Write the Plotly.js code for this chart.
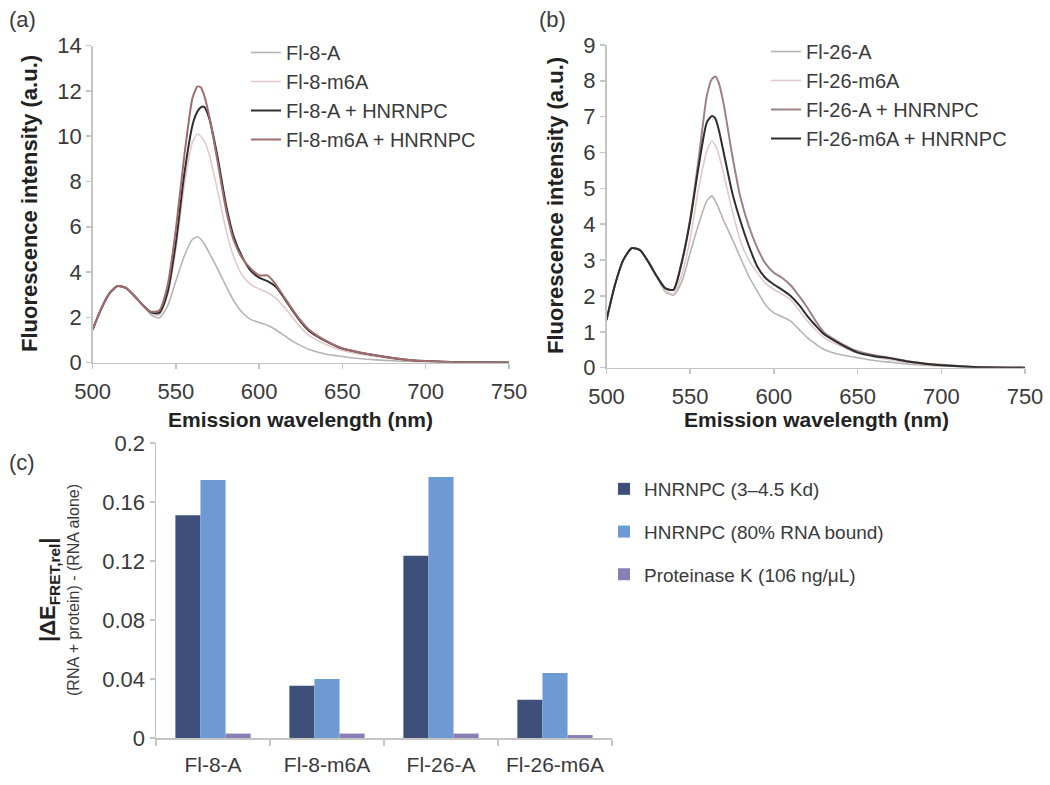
<!DOCTYPE html>
<html>
<head>
<meta charset="utf-8">
<script src="https://cdn.plot.ly/plotly-3.0.1.min.js"></script>
<style>html,body{margin:0;padding:0;background:#fff;}#chart{width:1050px;height:785px;}</style>
</head>
<body>
<div id="chart"></div>
<script>
// ---------- data ----------
const wavelength = [500,505,510,515,520,525,530,535,540,545,550,555,560,563,565,567,570,575,580,585,590,595,600,605,610,615,620,625,630,640,650,660,670,680,690,700,720,750];

// panel (a)
const fl8A          = [1.45,2.35,3.05,3.38,3.30,2.95,2.55,2.12,1.97,2.50,3.60,4.70,5.45,5.56,5.45,5.25,4.85,4.15,3.40,2.70,2.20,1.90,1.77,1.65,1.45,1.20,0.95,0.75,0.58,0.38,0.27,0.18,0.12,0.08,0.05,0.03,0.01,0.00];
const fl8m6A        = [1.45,2.35,3.05,3.38,3.30,2.95,2.55,2.18,2.10,3.00,5.00,7.80,9.75,10.10,10.00,9.80,9.20,7.60,5.90,4.60,3.85,3.45,3.25,3.10,2.85,2.45,2.00,1.55,1.20,0.80,0.53,0.38,0.27,0.17,0.10,0.06,0.02,0.00];
const fl8A_HNRNPC   = [1.45,2.35,3.05,3.38,3.30,2.95,2.55,2.22,2.20,3.10,5.30,8.30,10.50,11.10,11.28,11.30,10.80,9.10,7.00,5.50,4.65,4.05,3.75,3.60,3.35,2.85,2.30,1.80,1.40,0.95,0.62,0.45,0.32,0.20,0.12,0.07,0.02,0.00];
const fl8m6A_HNRNPC = [1.45,2.35,3.05,3.38,3.30,2.95,2.55,2.25,2.30,3.40,5.90,9.10,11.70,12.20,12.15,11.80,10.90,8.90,6.80,5.35,4.60,4.15,3.85,3.85,3.45,2.90,2.35,1.85,1.45,0.97,0.63,0.46,0.32,0.20,0.12,0.07,0.02,0.00];

// panel (b)
const fl26A          = [1.33,2.30,3.00,3.33,3.28,2.95,2.55,2.12,2.02,2.40,3.20,4.00,4.65,4.79,4.65,4.45,4.10,3.60,3.07,2.55,2.14,1.75,1.53,1.42,1.30,1.07,0.84,0.66,0.51,0.36,0.28,0.20,0.15,0.10,0.07,0.05,0.02,0.00];
const fl26m6A        = [1.33,2.30,3.00,3.33,3.28,2.95,2.55,2.15,2.05,2.60,3.60,5.00,6.05,6.32,6.20,5.95,5.40,4.40,3.53,3.00,2.65,2.35,2.18,2.05,1.90,1.60,1.30,1.05,0.84,0.60,0.42,0.30,0.22,0.14,0.09,0.06,0.02,0.00];
const fl26A_HNRNPC   = [1.33,2.30,3.00,3.33,3.28,2.95,2.55,2.22,2.17,2.95,4.15,5.80,7.60,8.05,8.12,7.95,7.35,5.95,4.75,3.95,3.35,2.90,2.65,2.50,2.30,2.00,1.67,1.30,0.98,0.68,0.46,0.35,0.27,0.18,0.12,0.08,0.02,0.00];
const fl26m6A_HNRNPC = [1.33,2.30,3.00,3.33,3.28,2.95,2.55,2.22,2.17,2.95,4.10,5.60,6.85,7.02,6.95,6.65,6.00,4.90,4.09,3.40,2.83,2.50,2.32,2.17,2.00,1.75,1.44,1.17,0.93,0.65,0.42,0.32,0.26,0.17,0.11,0.07,0.02,0.00];

// panel (c)
const categories   = ['Fl-8-A','Fl-8-m6A','Fl-26-A','Fl-26-m6A'];
const hnrnpcKd     = [0.151,0.0355,0.1235,0.026];
const hnrnpc80     = [0.175,0.040,0.177,0.044];
const proteinaseK  = [0.003,0.003,0.003,0.002];
const yTicksC      = [0,0.04,0.08,0.12,0.16,0.2];
const yTickTextC   = ['0','0.04','0.08','0.12','0.16','0.2'];

// ---------- styling ----------
const FONT = 'Liberation Sans, Arial, sans-serif';
const TXT = '#3a3a3a';
const TITLE = '#222222';
const AX = '#c4c4c4';
const W = 1050, H = 785;
const px = v => v / W;
const py = v => 1 - v / H;

function lineTrace(y, name, color, width, xa, ya, lg) {
  return {x: wavelength, y: y, name: name, type: 'scatter', mode: 'lines',
          line: {color: color, width: width, shape: 'spline', smoothing: 0.6},
          xaxis: xa, yaxis: ya, legend: lg, hoverinfo: 'skip'};
}

const traces = [
  lineTrace(fl8A, 'Fl-8-A', '#b4b4b4', 1.6, 'x', 'y', 'legend'),
  lineTrace(fl8m6A, 'Fl-8-m6A', '#e3c9cc', 1.6, 'x', 'y', 'legend'),
  lineTrace(fl8A_HNRNPC, 'Fl-8-A + HNRNPC', '#2e2e2e', 2, 'x', 'y', 'legend'),
  lineTrace(fl8m6A_HNRNPC, 'Fl-8-m6A + HNRNPC', '#a06c6c', 2, 'x', 'y', 'legend'),
  lineTrace(fl26A, 'Fl-26-A', '#b4b4b4', 1.6, 'x2', 'y2', 'legend2'),
  lineTrace(fl26m6A, 'Fl-26-m6A', '#e0c8cb', 1.6, 'x2', 'y2', 'legend2'),
  lineTrace(fl26A_HNRNPC, 'Fl-26-A + HNRNPC', '#9c8282', 2, 'x2', 'y2', 'legend2'),
  lineTrace(fl26m6A_HNRNPC, 'Fl-26-m6A + HNRNPC', '#2e2e2e', 2, 'x2', 'y2', 'legend2'),
  {x: categories, y: hnrnpcKd, name: 'HNRNPC (3–4.5 Kd)', type: 'bar', marker: {color: '#3e5079'},
   xaxis: 'x3', yaxis: 'y3', legend: 'legend3', legendgroup: 'g1', hoverinfo: 'skip'},
  {x: categories, y: hnrnpc80, name: 'HNRNPC (80% RNA bound)', type: 'bar', marker: {color: '#6d9ad2'},
   xaxis: 'x3', yaxis: 'y3', legend: 'legend3', legendgroup: 'g2', hoverinfo: 'skip'},
  {x: categories, y: proteinaseK, name: 'Proteinase K (106 ng/μL)', type: 'bar', marker: {color: '#8a7db3'},
   xaxis: 'x3', yaxis: 'y3', legend: 'legend3', legendgroup: 'g3', hoverinfo: 'skip'}
];

const axisBase = {showline: true, linecolor: AX, linewidth: 1.5, ticks: 'outside', tickcolor: AX,
  ticklen: 5, tickwidth: 1.5, showgrid: false, zeroline: false, fixedrange: true,
  tickfont: {family: FONT, size: 22, color: TXT}};

const legendBase = {bgcolor: 'rgba(0,0,0,0)', borderwidth: 0, xanchor: 'left', yanchor: 'top',
  font: {family: FONT, size: 20, color: TXT}, itemclick: false, itemdoubleclick: false};

function ann(text, x, y, size, color, angle) {
  return {text: text, x: px(x), y: py(y), xref: 'paper', yref: 'paper', showarrow: false,
          xanchor: 'center', yanchor: 'middle', textangle: angle || 0,
          font: {family: FONT, size: size, color: color}};
}

const layout = {
  width: W, height: H,
  margin: {l: 0, r: 0, t: 0, b: 0},
  paper_bgcolor: '#fff', plot_bgcolor: 'rgba(0,0,0,0)',
  font: {family: FONT, color: TXT},
  showlegend: true,
  barmode: 'group', bargap: 0.34, bargroupgap: 0,
  xaxis: Object.assign({}, axisBase, {domain: [px(92.6), px(509)], range: [500, 750], dtick: 50, anchor: 'y', ticklabelstandoff: 3}),
  yaxis: Object.assign({}, axisBase, {domain: [py(362.6), py(45.7)], range: [0, 14], dtick: 2, anchor: 'x'}),
  xaxis2: Object.assign({}, axisBase, {domain: [px(606.5), px(1025)], range: [500, 750], dtick: 50, anchor: 'y2', ticklabelstandoff: 3}),
  yaxis2: Object.assign({}, axisBase, {domain: [py(367.7), py(44.9)], range: [0, 9], dtick: 1, anchor: 'x2'}),
  xaxis3: Object.assign({}, axisBase, {domain: [px(156), px(612)], anchor: 'y3', type: 'category',
    tickson: 'boundaries', ticklen: 6, ticklabelstandoff: 7, tickfont: {family: FONT, size: 21, color: TXT}}),
  yaxis3: Object.assign({}, axisBase, {domain: [py(738), py(443)], range: [0, 0.2], anchor: 'x3',
    tickvals: yTicksC, ticktext: yTickTextC, tickfont: {family: FONT, size: 22, color: TXT}}),
  legend: Object.assign({}, legendBase, {x: px(246), y: py(33)}),
  legend2: Object.assign({}, legendBase, {x: px(766), y: py(32)}),
  legend3: Object.assign({}, legendBase, {x: px(604), y: py(470), traceorder: 'grouped', tracegroupgap: 15,
    font: {family: FONT, size: 19, color: TXT}}),
  annotations: [
    ann('(a)', 22, 20, 22, TXT),
    ann('(b)', 552, 20, 22, TXT),
    ann('(c)', 22, 462, 22, TXT),
    ann('<b>Fluorescence intensity (a.u.)</b>', 30, 204, 22, TITLE, -90),
    ann('<b>Fluorescence intensity (a.u.)</b>', 556, 206, 22, TITLE, -90),
    ann('<b>Emission wavelength (nm)</b>', 300, 419, 21, TITLE),
    ann('<b>Emission wavelength (nm)</b>', 816, 419, 21, TITLE),
    ann('<b>|ΔE<sub>FRET,rel</sub>|</b>', 49, 590, 22, TITLE, -90),
    ann('(RNA + protein) - (RNA alone)', 73, 590, 16, TXT, -90)
  ]
};

Plotly.newPlot('chart', traces, layout, {staticPlot: true, displayModeBar: false});
</script>
</body>
</html>
